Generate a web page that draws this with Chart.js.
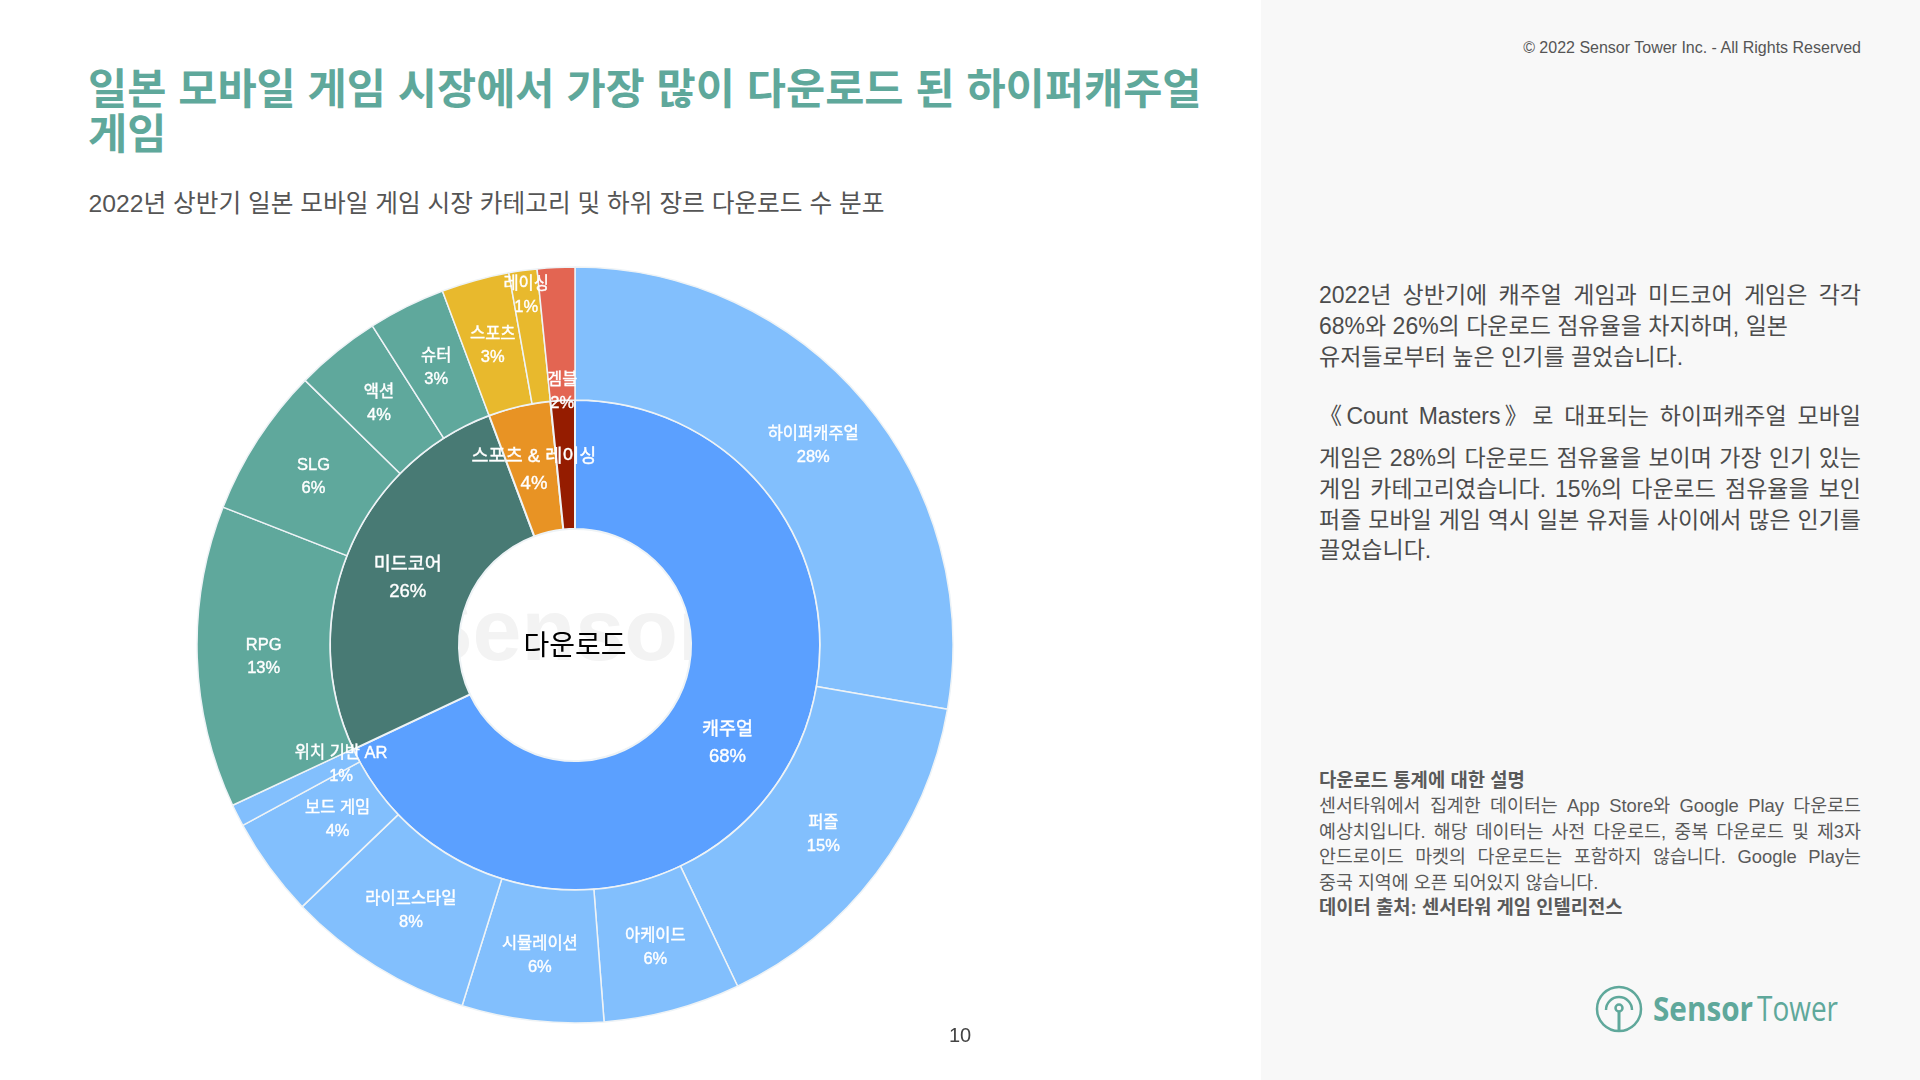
<!DOCTYPE html>
<html lang="ko">

<head>
  <meta charset="utf-8">
  <title>일본 모바일 게임 시장 다운로드 분포</title>
  <script src="https://cdn.jsdelivr.net/npm/chart.js"></script>
  <style>
    html, body { margin: 0; padding: 0; width: 1920px; height: 1080px; overflow: hidden; background: #fff; }
    body { position: relative; font-family: "Liberation Sans", "Noto Sans CJK KR", sans-serif; }
    .abs { position: absolute; white-space: nowrap; }
    #side { position: absolute; left: 1261px; top: 0; width: 659px; height: 1080px; background: #f8f8f8; }
    .title { left: 88px; color: #5fa89b; font-size: 42.6px; font-weight: 700; line-height: 46px; }
    #subtitle { left: 88.5px; top: 187px; color: #555; font-size: 24.7px; line-height: 34px; }
    #watermark { left: 263px; width: 600px; top: 570px; text-align: center; color: #f3f3f3; font-size: 88px; font-weight: 700; line-height: 120px; }
    #chart-box { position: absolute; left: 195px; top: 265px; width: 760px; height: 760px; }
    .para { left: 1319px; width: 542px; color: #4c4c4c; font-size: 23px; line-height: 30px; }
    .just { text-align: justify; text-align-last: justify; white-space: normal; }
    .note { left: 1319px; width: 542px; color: #5a5a5a; font-size: 18.4px; line-height: 26px; }
    .note.bold { font-weight: 700; font-size: 18.8px; }
  </style>
</head>

<body>
  <div id="side"></div>

  <div class="abs title" style="top: 66px;">일본 모바일 게임 시장에서 가장 많이 다운로드 된 하이퍼캐주얼</div>
  <div class="abs title" style="top: 111px;">게임</div>
  <div class="abs" id="subtitle">2022년 상반기 일본 모바일 게임 시장 카테고리 및 하위 장르 다운로드 수 분포</div>

  <div class="abs" id="watermark">Sensor</div>
  <div id="chart-box"><canvas id="chart" width="760" height="760"></canvas></div>

  <div class="abs" style="left: 940px; width: 40px; top: 1023px; text-align: center; color: #444; font-size: 20px; line-height: 24px;">10</div>
  <div class="abs" style="right: 59px; top: 37.5px; color: #555; font-size: 16px; line-height: 20px;">© 2022 Sensor Tower Inc. - All Rights Reserved</div>

  <!-- right column, lines placed one by one to keep the original breaks -->
  <div class="abs para just" style="top: 280px;">2022년 상반기에 캐주얼 게임과 미드코어 게임은 각각</div>
  <div class="abs para" style="top: 311px;">68%와 26%의 다운로드 점유율을 차지하며, 일본</div>
  <div class="abs para" style="top: 342px;">유저들로부터 높은 인기를 끌었습니다.</div>
  <div class="abs para just" style="top: 401px;">《Count Masters》로 대표되는 하이퍼캐주얼 모바일</div>
  <div class="abs para just" style="top: 443px;">게임은 28%의 다운로드 점유율을 보이며 가장 인기 있는</div>
  <div class="abs para just" style="top: 474px;">게임 카테고리였습니다. 15%의 다운로드 점유율을 보인</div>
  <div class="abs para just" style="top: 505px;">퍼즐 모바일 게임 역시 일본 유저들 사이에서 많은 인기를</div>
  <div class="abs para" style="top: 535px;">끌었습니다.</div>

  <div class="abs note bold" style="top: 768px;">다운로드 통계에 대한 설명</div>
  <div class="abs note just" style="top: 793px;">센서타워에서 집계한 데이터는 App Store와 Google Play 다운로드</div>
  <div class="abs note just" style="top: 819px;">예상치입니다. 해당 데이터는 사전 다운로드, 중복 다운로드 및 제3자</div>
  <div class="abs note just" style="top: 844px;">안드로이드 마켓의 다운로드는 포함하지 않습니다. Google Play는</div>
  <div class="abs note" style="top: 870px;">중국 지역에 오픈 되어있지 않습니다.</div>
  <div class="abs note bold" style="top: 895px;">데이터 출처: 센서타워 게임 인텔리전스</div>

  <!-- logo -->
  <svg class="abs" style="left: 1590px; top: 975px;" width="260" height="70" viewBox="0 0 260 70">
    <circle cx="29" cy="34" r="22" fill="none" stroke="#5fa89b" stroke-width="2.5"/>
    <path d="M16 35 a13 13 0 1 1 26 0" fill="none" stroke="#5fa89b" stroke-width="2.5"/>
    <circle cx="29" cy="33" r="3.5" fill="none" stroke="#5fa89b" stroke-width="2.5"/>
    <path d="M29 37 V56" stroke="#5fa89b" stroke-width="3"/>
    <text x="63" y="46" font-family="Open Sans" font-weight="700" font-size="34" fill="#5fa89b" textLength="100" lengthAdjust="spacingAndGlyphs">Sensor</text>
    <text x="167" y="46" font-family="Open Sans" font-weight="400" font-size="34" fill="#5fa89b" textLength="81" lengthAdjust="spacingAndGlyphs">Tower</text>
  </svg>

  <script>
    // inner ring: category shares
    const innerLabels = ['캐주얼', '미드코어', '스포츠 & 레이싱', '겜블'];
    const innerValues = [68, 26.3, 4.1, 1.6];
    const innerShown = ['68%', '26%', '4%', ''];

    // outer ring: sub genres, clockwise from 12 o'clock
    const outerLabels = ['하이퍼캐주얼', '퍼즐', '아케이드', '시뮬레이션', '라이프스타일', '보드 게임', '위치 기반 AR',
      'RPG', 'SLG', '액션', '슈터', '스포츠', '레이싱', '겜블'];
    const outerValues = [27.7, 15.2, 5.85, 6.05, 8, 4.25, 0.95, 12.9, 6.4, 3.65, 3.3, 2.9, 1.2, 1.6];
    const outerShown = ['28%', '15%', '6%', '6%', '8%', '4%', '1%', '13%', '6%', '4%', '3%', '3%', '1%', '2%'];

    const innerColors = ['#5ba0ff', '#487a74', '#e89324', '#951c00'];
    const outerColors = ['#82bffd', '#82bffd', '#82bffd', '#82bffd', '#82bffd', '#82bffd', '#82bffd',
      '#5fa89c', '#5fa89c', '#5fa89c', '#5fa89c', '#e8b92d', '#e8b92d', '#e36552'];

    const labelFont = '"Liberation Sans", "Noto Sans CJK KR", sans-serif';

    // a few thin slices have their label pushed along the radius in the original
    const labelRadius = { '레이싱': 354, '겜블': 255, '위치 기반 AR': 262, '보드 게임': 294 };

    const sliceLabels = {
      id: 'sliceLabels',
      afterDatasetsDraw(chart) {
        const ctx = chart.ctx;
        ctx.save();
        ctx.textAlign = 'center';
        ctx.textBaseline = 'middle';
        ctx.fillStyle = '#fff';
        // thin stroke thickens latin and hangul evenly, the original text is a bit heavier
        ctx.strokeStyle = '#fff';
        ctx.lineWidth = 0.4;

        chart.data.datasets.forEach((ds, d) => {
          const isOuter = d === 0;
          chart.getDatasetMeta(d).data.forEach((arc, i) => {
            const shown = ds.shown[i];
            if (!shown) return;
            const name = ds.names[i];
            const props = arc.getProps(['startAngle', 'endAngle', 'innerRadius', 'outerRadius', 'x', 'y'], true);
            const mid = (props.startAngle + props.endAngle) / 2;
            const r = (isOuter && labelRadius[name]) || (props.innerRadius + props.outerRadius) / 2;
            const x = props.x + Math.cos(mid) * r;
            const y = props.y + Math.sin(mid) * r + 1.5;
            const size = isOuter ? 16.5 : 18.5;
            const gap = isOuter ? 11.5 : 13.5;
            ctx.font = size + 'px ' + labelFont;
            ctx.fillText(name, x, y - gap);
            ctx.strokeText(name, x, y - gap);
            ctx.fillText(shown, x, y + gap);
            ctx.strokeText(shown, x, y + gap);
          });
        });

        // center title
        const first = chart.getDatasetMeta(0).data[0];
        ctx.fillStyle = '#000';
        ctx.font = '28px ' + labelFont;
        ctx.fillText('다운로드', first.x, first.y + 2);
        ctx.restore();
      }
    };

    // first dataset is the outermost ring in Chart.js
    new Chart(document.getElementById('chart'), {
      type: 'doughnut',
      data: {
        labels: outerLabels,
        datasets: [
          {
            data: outerValues, names: outerLabels, shown: outerShown,
            backgroundColor: outerColors, borderColor: '#eef3f6', borderWidth: 1.5, weight: 133
          },
          {
            data: innerValues, names: innerLabels, shown: innerShown,
            backgroundColor: innerColors, borderColor: '#eef3f6', borderWidth: 2, weight: 129
          }
        ]
      },
      options: {
        responsive: false,
        animation: false,
        radius: 378,
        cutout: '30.7%',
        plugins: { legend: { display: false }, tooltip: { enabled: false } }
      },
      plugins: [sliceLabels]
    });
  </script>
</body>

</html>
